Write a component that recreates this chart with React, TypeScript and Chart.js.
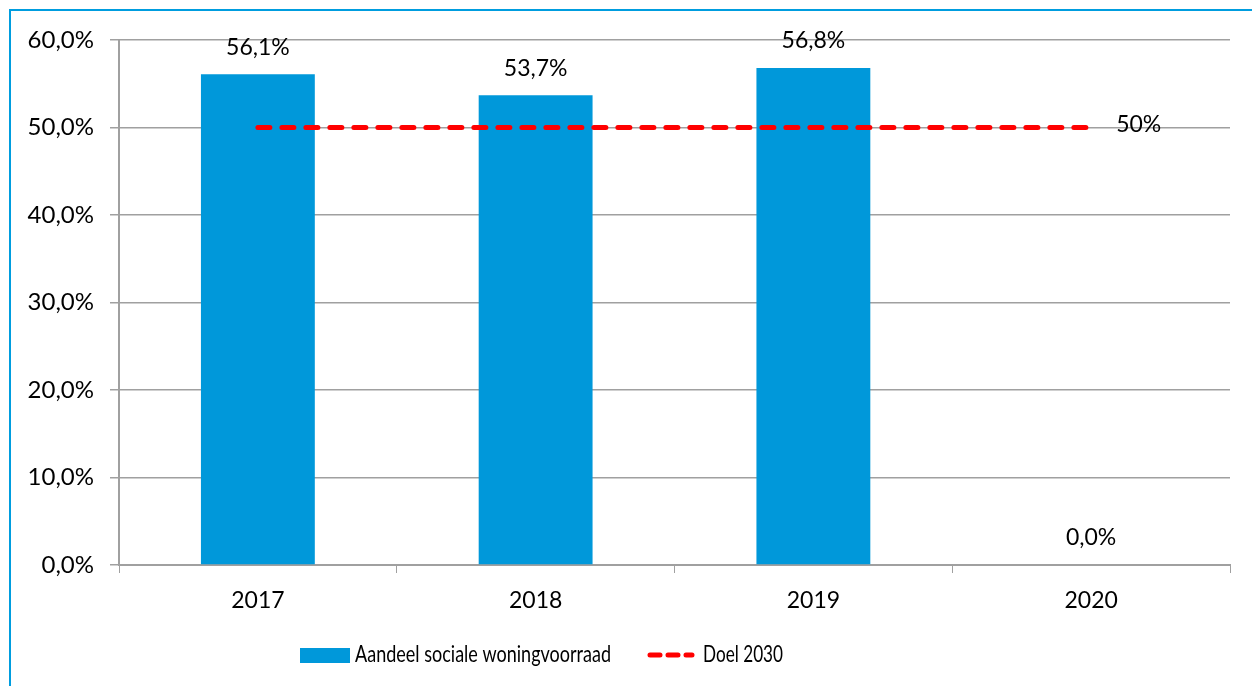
import React, { useEffect, useRef } from "react";
import { Chart, registerables } from "chart.js";

Chart.register(...registerables);

const categories = ["2017", "2018", "2019", "2020"];
const shareValues = [56.1, 53.7, 56.8, 0.0];
const goalValues = [50, 50, 50, 50];
const shareLabel = "Aandeel sociale woningvoorraad";
const goalLabel = "Doel 2030";
const goalText = "50%";

const BAR_COLOR = "#0098DA";
const GOAL_COLOR = "#FF0000";
const GRID_COLOR = "#A0A0A0";
const FONT = "Lato, 'Noto Sans', sans-serif";

const fmt = (v: number) => v.toFixed(1).replace(".", ",") + "%";

const labelPlugin = {
  id: "customLabels",
  afterDatasetsDraw(chart: any) {
    const ctx = chart.ctx;
    ctx.save();
    ctx.fillStyle = "#000";
    ctx.font = `23px ${FONT}`;
    ctx.textAlign = "center";
    ctx.textBaseline = "middle";
    const barMeta = chart.getDatasetMeta(0);
    barMeta.data.forEach((bar: any, i: number) => {
      ctx.fillText(fmt(shareValues[i]), bar.x, bar.y - 27);
    });
    const lineMeta = chart.getDatasetMeta(1);
    const last = lineMeta.data[lineMeta.data.length - 1];
    ctx.textAlign = "left";
    ctx.fillText(goalText, last.x + 25, last.y - 3);
    ctx.restore();
  },
  afterDraw(chart: any) {
    const ctx = chart.ctx;
    ctx.save();
    const y = 655;
    ctx.fillStyle = BAR_COLOR;
    ctx.fillRect(300, 648, 50, 15);
    ctx.fillStyle = "#000";
    ctx.font = `23px ${FONT}`;
    ctx.textAlign = "left";
    ctx.textBaseline = "middle";
    ctx.fillText(shareLabel, 355, y, 256);
    ctx.strokeStyle = GOAL_COLOR;
    ctx.lineWidth = 5;
    ctx.lineCap = "round";
    ctx.setLineDash([10, 8]);
    ctx.beginPath();
    ctx.moveTo(650, y);
    ctx.lineTo(692, y);
    ctx.stroke();
    ctx.setLineDash([]);
    ctx.fillText(goalLabel, 703, y, 80);
    ctx.restore();
  },
};

export default function App() {
  const ref = useRef<HTMLCanvasElement>(null);
  useEffect(() => {
    document.body.style.margin = "0";
    const chart = new Chart(ref.current!, {
      type: "bar",
      data: {
        labels: categories,
        datasets: [
          {
            type: "bar",
            label: shareLabel,
            data: shareValues,
            backgroundColor: BAR_COLOR,
            barPercentage: 0.41,
            categoryPercentage: 1,
            order: 2,
          },
          {
            type: "line",
            label: goalLabel,
            data: goalValues,
            borderColor: GOAL_COLOR,
            borderWidth: 5,
            borderDash: [12, 12],
            borderCapStyle: "round",
            pointRadius: 0,
            fill: false,
            order: 1,
          } as any,
        ],
      },
      options: {
        animation: false,
        responsive: false,
        maintainAspectRatio: false,
        layout: { padding: { left: 0, right: 22, top: 40, bottom: 0 } },
        plugins: { legend: { display: false }, tooltip: { enabled: false } },
        scales: {
          x: {
            grid: {
              offset: true,
              drawOnChartArea: false,
              drawTicks: true,
              tickLength: 8,
              color: GRID_COLOR,
            },
            border: { color: GRID_COLOR, width: 2 },
            ticks: { color: "#000", font: { family: FONT, size: 23 }, padding: 14 },
            afterFit: (s: any) => {
              s.height = 121;
            },
          },
          y: {
            min: 0,
            max: 60,
            ticks: {
              stepSize: 10,
              color: "#000",
              font: { family: FONT, size: 24 },
              padding: 16,
              callback: (v: any) => fmt(Number(v)),
            },
            grid: { color: GRID_COLOR, lineWidth: 1.5, tickLength: 9 },
            border: { color: GRID_COLOR, width: 2 },
            afterFit: (s: any) => {
              s.width = 119;
            },
          },
        },
      },
      plugins: [labelPlugin],
    });
    return () => chart.destroy();
  }, []);
  return (
    <div style={{ position: "relative", width: 1252, height: 686, overflow: "hidden", background: "#fff" }}>
      <div
        style={{
          position: "absolute",
          left: 9,
          top: 9,
          width: 1400,
          height: 800,
          border: "2px solid #009DDF",
          boxSizing: "border-box",
        }}
      />
      <canvas ref={ref} width={1252} height={686} style={{ position: "absolute", left: 0, top: 0 }} />
    </div>
  );
}
